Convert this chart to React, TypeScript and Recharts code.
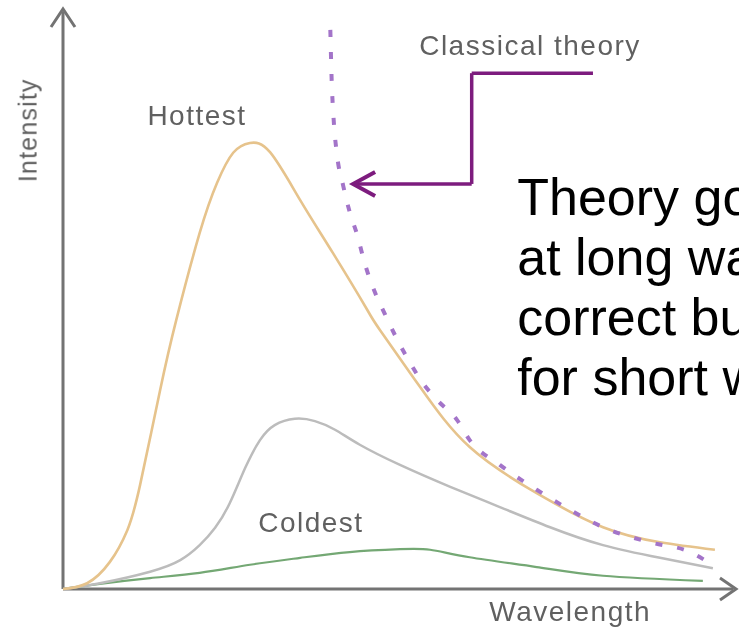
import React from 'react';
import { LineChart, Line, XAxis, YAxis, ReferenceLine, ReferenceDot } from 'recharts';

// Wavelength (0-100) and intensity (0-100) values
const hottestX = [0, 3.6, 7.0, 9.6, 11.5, 14.5, 16.9, 20.4, 23.0, 25.4, 27.9, 30.9, 35.4, 40.3, 45.4, 47.3, 53.3, 60.7, 70.7, 80.6, 89.1, 97.3];
const hottestY = [0, 1.0, 4.7, 10.2, 18.0, 34.5, 46.6, 61.7, 70.4, 75.6, 77.3, 75.7, 67.4, 58.2, 48.4, 44.9, 35.0, 24.6, 16.6, 10.7, 8.1, 6.8];

const middleX = [0, 5.5, 13.0, 17.5, 20.4, 22.7, 24.9, 27.2, 29.4, 31.6, 34.6, 37.6, 40.6, 44.3, 50.3, 57.8, 65.2, 72.7, 80.6, 89.1, 97.0];
const middleY = [0, 1.0, 3.0, 5.0, 7.6, 10.6, 14.9, 21.0, 25.8, 28.4, 29.5, 29.1, 27.6, 25.0, 21.5, 17.7, 14.2, 10.7, 7.6, 5.4, 3.6];

const coldestX = [0, 5.5, 13.0, 20.4, 27.9, 35.4, 42.8, 50.3, 54.8, 60.7, 70.7, 80.6, 95.5];
const coldestY = [0, 0.9, 1.9, 2.8, 4.2, 5.4, 6.4, 6.9, 6.8, 5.5, 3.8, 2.3, 1.4];

const classicalX = [39.9, 40.1, 40.4, 40.9, 41.8, 42.8, 43.9, 45.1, 46.6, 48.1, 49.9, 51.8, 53.7, 55.8, 58.8, 60.7, 65.2, 70.7, 75.7, 80.6, 87.6, 93.6, 95.8];
const classicalY = [96.9, 88.2, 81.3, 75.2, 70.0, 65.3, 61.4, 56.2, 51.3, 47.5, 43.2, 39.2, 35.7, 32.8, 29.3, 25.8, 21.5, 17.2, 13.7, 10.7, 8.1, 6.4, 5.0];

const noteLines = ['Theory goes wrong', 'at long wavelengths', 'correct but fails', 'for short wavelengths'];

const toPoints = (xs: number[], ys: number[]) => xs.map((x, i) => ({ x, y: ys[i] }));
const hottest = toPoints(hottestX, hottestY);
const middle = toPoints(middleX, middleY);
const coldest = toPoints(coldestX, coldestY);
const classical = toPoints(classicalX, classicalY);

const AXIS = '#737373';
const LABEL = '#606060';
const ARROW = '#7d1c7e';

const grayText = (text: string, rotate = false) => (p: any) => (
  <text
    x={p.cx}
    y={p.cy}
    textAnchor="middle"
    fontFamily="'Liberation Sans', Arial, sans-serif"
    fontSize={rotate ? 25 : 28}
    letterSpacing={rotate ? 1.2 : 1.5}
    fill={LABEL}
    className="soft"
    transform={rotate ? `rotate(-90 ${p.cx} ${p.cy})` : undefined}
  >
    {text}
  </text>
);

const UpArrow = (p: any) => (
  <path d={`M${p.cx - 12},${p.cy + 15} L${p.cx},${p.cy - 3} L${p.cx + 12},${p.cy + 15}`} fill="none" stroke={AXIS} strokeWidth={3} className="soft" />
);
const RightArrow = (p: any) => (
  <path d={`M${p.cx - 13},${p.cy - 11} L${p.cx + 3},${p.cy} L${p.cx - 13},${p.cy + 11}`} fill="none" stroke={AXIS} strokeWidth={3} className="soft" />
);
const LeftArrowHead = (p: any) => (
  <path d={`M${p.cx + 22},${p.cy - 12} L${p.cx},${p.cy} L${p.cx + 22},${p.cy + 12}`} fill="none" stroke={ARROW} strokeWidth={4} />
);
const Note = (p: any) => (
  <text x={p.cx} y={p.cy} fontFamily="'Liberation Sans', Arial, sans-serif" fontSize={52} fill="#000">
    {noteLines.map((t, i) => (
      <tspan key={i} x={p.cx} dy={i === 0 ? 0 : 60}>
        {t}
      </tspan>
    ))}
  </text>
);

export default function App() {
  return (
    <div style={{ position: 'absolute', left: 0, top: 0, width: 739, height: 631, background: '#fff' }}>
      <style>{`.soft { filter: blur(0.6px); }`}</style>
      <LineChart width={739} height={631} margin={{ top: 12, right: 6, bottom: 42, left: 63 }}>
        <XAxis type="number" dataKey="x" domain={[0, 100]} hide />
        <YAxis type="number" dataKey="y" domain={[0, 100]} hide />
        <ReferenceLine x={0} stroke={AXIS} strokeWidth={3} ifOverflow="visible" className="soft" />
        <ReferenceLine y={0} stroke={AXIS} strokeWidth={3} ifOverflow="visible" className="soft" />
        <ReferenceDot x={0} y={100} r={0} shape={UpArrow} ifOverflow="visible" />
        <ReferenceDot x={100} y={0} r={0} shape={RightArrow} ifOverflow="visible" />

        <Line data={coldest} dataKey="y" type="natural" stroke="#74a874" strokeWidth={2.2} dot={false} isAnimationActive={false} className="soft" />
        <Line data={middle} dataKey="y" type="natural" stroke="#bcbcbc" strokeWidth={2.5} dot={false} isAnimationActive={false} className="soft" />
        <Line data={hottest} dataKey="y" type="natural" stroke="#e6c38c" strokeWidth={2.6} dot={false} isAnimationActive={false} className="soft" />
        <Line data={classical} dataKey="y" type="monotone" stroke="#a374c9" strokeWidth={4} strokeDasharray="7 15" dot={false} isAnimationActive={false} className="soft" />

        <ReferenceLine segment={[{ x: 79.1, y: 89.4 }, { x: 61.0, y: 89.4 }]} stroke={ARROW} strokeWidth={3.5} ifOverflow="visible" />
        <ReferenceLine segment={[{ x: 61.0, y: 89.4 }, { x: 61.0, y: 70.2 }]} stroke={ARROW} strokeWidth={3.5} ifOverflow="visible" />
        <ReferenceLine segment={[{ x: 61.0, y: 70.2 }, { x: 43.3, y: 70.2 }]} stroke={ARROW} strokeWidth={3.5} ifOverflow="visible" />
        <ReferenceDot x={43.3} y={70.2} r={0} shape={LeftArrowHead} ifOverflow="visible" />

        <ReferenceDot x={20.0} y={80.4} r={0} shape={grayText('Hottest')} ifOverflow="visible" />
        <ReferenceDot x={69.7} y={92.5} r={0} shape={grayText('Classical theory')} ifOverflow="visible" />
        <ReferenceDot x={37.0} y={9.9} r={0} shape={grayText('Coldest')} ifOverflow="visible" />
        <ReferenceDot x={75.7} y={-5.5} r={0} shape={grayText('Wavelength')} ifOverflow="visible" />
        <ReferenceDot x={-3.9} y={79.5} r={0} shape={grayText('Intensity', true)} ifOverflow="visible" />
        <ReferenceDot x={67.8} y={64.8} r={0} shape={Note} ifOverflow="visible" />
      </LineChart>
    </div>
  );
}
